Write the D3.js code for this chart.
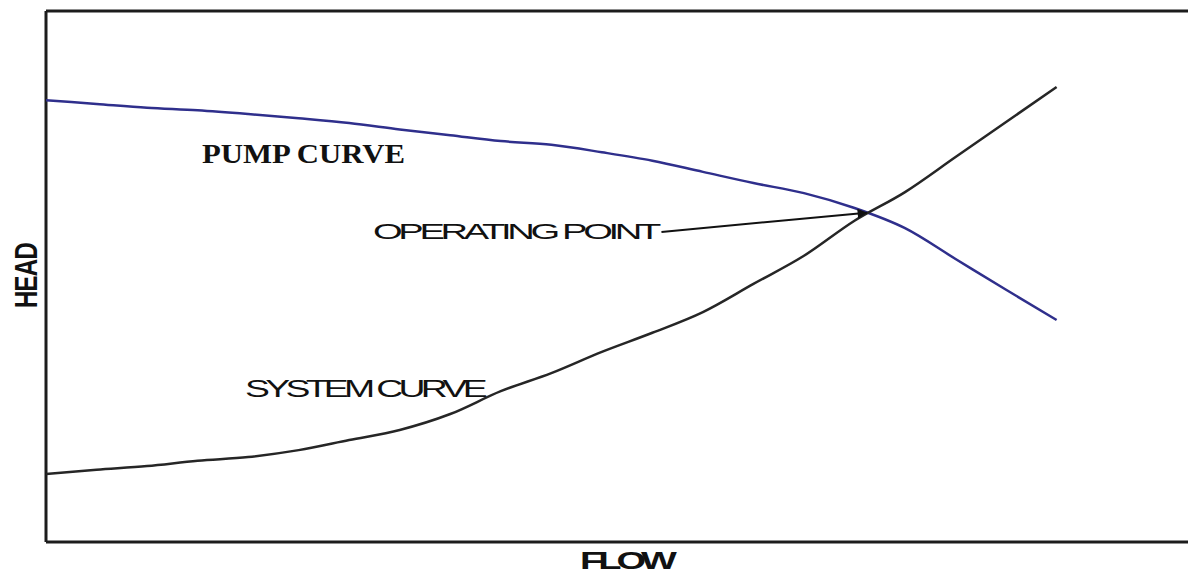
<!DOCTYPE html>
<html>
<head>
<meta charset="utf-8">
<script src="https://cdn.jsdelivr.net/npm/d3@7"></script>
<style>
  body { margin: 0; background: #fff; }
  svg { display: block; }
</style>
</head>
<body>
<script>
//settings
var settings = {
  width: 1188,
  height: 575,
  left: 46,
  top: 11,
  bottom: 542,
}

//data (arbitrary units)
var flow = [0, 5, 10, 15, 20, 25, 30, 35, 40, 45, 50, 55, 60, 65, 70, 75, 80, 85, 90, 95, 100];
var pumpHead = [83.2, 82.5, 81.8, 81.3, 80.6, 79.8, 78.9, 77.7, 76.6, 75.5, 74.8, 73.4, 71.8, 69.7, 67.6, 65.7, 62.9, 59.1, 53.3, 47.5, 41.8];
var systemHead = [12.8, 13.6, 14.3, 15.3, 16.0, 17.3, 19.2, 21.1, 24.1, 28.4, 31.8, 35.8, 39.4, 43.3, 48.6, 53.9, 60.5, 65.9, 72.5, 79.1, 85.7];
var operatingPoint = [81.5, 62.0];
var arrowStart = [60.9, 58.4];

var x = d3.scaleLinear().domain([0, 113]).range([settings.left, settings.width]);
var y = d3.scaleLinear().domain([0, 100]).range([settings.bottom, settings.top]);

var svg = d3.select('body').append('svg')
  .attr('width', settings.width)
  .attr('height', settings.height);

svg.append('defs').append('marker')
  .attr('id', 'arrow')
  .attr('viewBox', '0 0 10 10')
  .attr('refX', 9).attr('refY', 5)
  .attr('markerWidth', 6).attr('markerHeight', 5)
  .attr('markerUnits', 'strokeWidth')
  .attr('orient', 'auto')
  .append('path')
  .attr('d', 'M0,0 L10,5 L0,10 z')
  .attr('fill', '#111');

//frame: top, left and bottom only
var frame = svg.append('g').attr('stroke', '#1c1c1c').attr('stroke-width', 3).attr('fill', 'none');
frame.append('line').attr('x1', x(0)).attr('x2', x(113)).attr('y1', y(100)).attr('y2', y(100));
frame.append('line').attr('x1', x(0)).attr('x2', x(0)).attr('y1', y(100)).attr('y2', y(0));
frame.append('line').attr('x1', x(0)).attr('x2', x(113)).attr('y1', y(0)).attr('y2', y(0));

var line = d3.line()
  .curve(d3.curveMonotoneX)
  .x(function(d) { return x(d[0]); })
  .y(function(d) { return y(d[1]); });

svg.append('path')
  .datum(flow.map(function(f, i) { return [f, pumpHead[i]]; }))
  .attr('d', line)
  .attr('fill', 'none')
  .attr('stroke', '#2f2f8c')
  .attr('stroke-width', 2.5);

svg.append('path')
  .datum(flow.map(function(f, i) { return [f, systemHead[i]]; }))
  .attr('d', line)
  .attr('fill', 'none')
  .attr('stroke', '#262626')
  .attr('stroke-width', 2.5);

//arrow to the operating point
svg.append('line')
  .attr('x1', x(arrowStart[0])).attr('y1', y(arrowStart[1]))
  .attr('x2', x(operatingPoint[0]) - 3).attr('y2', y(operatingPoint[1]))
  .attr('stroke', '#111')
  .attr('stroke-width', 2)
  .attr('marker-end', 'url(#arrow)');

//labels
function label(txt, px, py, size, len, family, weight, spacing) {
  return svg.append('text')
    .attr('x', px).attr('y', py)
    .attr('font-family', family)
    .attr('font-weight', weight)
    .attr('font-size', size)
    .attr('letter-spacing', spacing)
    .attr('textLength', len)
    .attr('lengthAdjust', 'spacingAndGlyphs')
    .attr('fill', '#111')
    .text(txt);
}

var sans = '"Liberation Sans", Arial, sans-serif';
label('PUMP CURVE', 202, 163, 27, 203, '"Liberation Serif", "Times New Roman", serif', 'bold', 0);
label('OPERATING POINT', 373, 239, 22, 284, sans, 'normal', -2.5);
label('SYSTEM CURVE', 245, 397, 24, 238, sans, 'normal', -3);
label('FLOW', 580, 569, 23, 92, sans, 'bold', -3);
label('HEAD', 0, 0, 32, 65, sans, 'bold', -1)
  .attr('transform', 'translate(37,308) rotate(-90)');
</script>
</body>
</html>
